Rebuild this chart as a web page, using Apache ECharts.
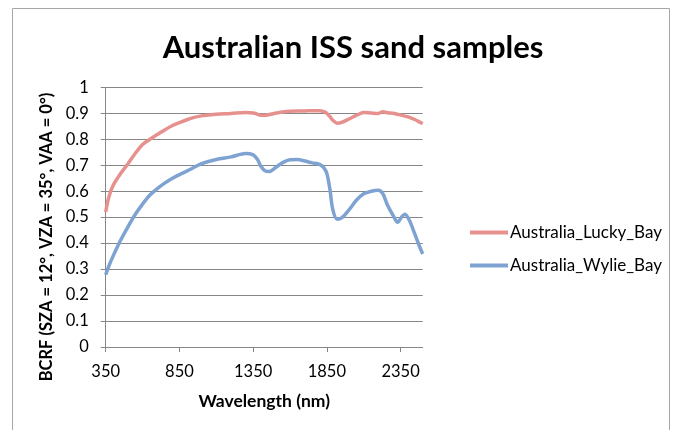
<!DOCTYPE html>
<html>
<head>
<meta charset="utf-8">
<script src="https://cdn.jsdelivr.net/npm/echarts@6/dist/echarts.min.js"></script>
<style>
html,body{margin:0;padding:0;background:#fff;}
#chart{width:673px;height:430px;}
</style>
</head>
<body>
<div id="chart"></div>
<script>
const titleText = 'Australian ISS sand samples';
const xAxisTitle = 'Wavelength (nm)';
const yAxisTitle = 'BCRF (SZA = 12°, VZA = 35°, VAA = 0°)';
const xTicks = [350, 850, 1350, 1850, 2350];
const seriesNames = ['Australia_Lucky_Bay', 'Australia_Wylie_Bay'];
const wavelengths = [350,370,400,450,500,550,600,650,700,750,800,850,900,950,1000,1100,1200,1300,1350,1380,1400,1430,1460,1500,1550,1600,1650,1700,1750,1800,1830,1850,1870,1890,1920,1950,2000,2050,2100,2150,2200,2230,2260,2300,2330,2360,2380,2410,2450,2480,2500];
const luckyBay = [0.52,0.575,0.622,0.667,0.705,0.745,0.780,0.800,0.818,0.836,0.852,0.864,0.875,0.884,0.890,0.896,0.899,0.903,0.901,0.896,0.892,0.892,0.895,0.900,0.905,0.908,0.909,0.909,0.910,0.910,0.906,0.900,0.888,0.873,0.862,0.865,0.878,0.892,0.903,0.901,0.899,0.906,0.902,0.900,0.896,0.892,0.889,0.884,0.875,0.866,0.860];
const wylieBay = [0.278,0.31,0.35,0.41,0.462,0.51,0.55,0.585,0.610,0.631,0.649,0.664,0.677,0.692,0.706,0.722,0.732,0.745,0.740,0.722,0.698,0.679,0.676,0.690,0.710,0.721,0.722,0.716,0.709,0.703,0.69,0.668,0.61,0.53,0.492,0.497,0.528,0.565,0.590,0.600,0.604,0.590,0.548,0.506,0.480,0.503,0.511,0.487,0.43,0.385,0.358];

const pairs = (ys) => wavelengths.map((w, i) => [w, ys[i]]);
const chart = echarts.init(document.getElementById('chart'));
const ff = 'Lato, "Liberation Sans", sans-serif';
chart.setOption({
  backgroundColor: '#fff',
  animation: false,
  title: {
    text: titleText, left: 348, top: 27, textAlign: 'center',
    textStyle: {fontFamily: ff, fontWeight: 'bold', fontSize: 31, color: '#000'}
  },
  graphic: [{
    type: 'rect', shape: {x: 12.5, y: 8.5, width: 657, height: 440},
    style: {fill: 'none', stroke: '#a6a6a6', lineWidth: 1}, silent: true, z: -1
  }, {
    type: 'text', x: 47, y: 237, rotation: Math.PI / 2, silent: true,
    style: {text: yAxisTitle, align: 'center', verticalAlign: 'middle',
      fontFamily: ff, fontWeight: 'bold', fontSize: 16.5, fill: '#000'}
  }],
  legend: {
    orient: 'vertical', left: 465, top: 219, itemWidth: 38, itemHeight: 4, itemGap: 16,
    icon: 'rect',
    textStyle: {fontFamily: ff, fontSize: 17, color: '#000', padding: [0,0,0,-3]},
    data: seriesNames
  },
  grid: {left: 105.7, right: 250.3, top: 87.3, bottom: 83, containLabel: false},
  xAxis: {
    type: 'value', min: 350, max: 2500,
    name: xAxisTitle, nameLocation: 'middle', nameGap: 45,
    nameTextStyle: {fontFamily: ff, fontWeight: 'bold', fontSize: 17.5, color: '#000'},
    axisLine: {show: true, onZero: false, lineStyle: {color: '#868686', width: 1}},
    axisTick: {show: true, length: 5, customValues: xTicks, lineStyle: {color: '#868686'}},
    axisLabel: {customValues: xTicks, margin: 16, fontFamily: ff, fontSize: 16.5, color: '#000',
      formatter: v => String(v)},
    splitLine: {show: false}
  },
  yAxis: {
    type: 'value', min: 0, max: 1, interval: 0.1,
    axisLine: {show: true, lineStyle: {color: '#868686', width: 1}},
    axisTick: {show: true, length: 5, lineStyle: {color: '#868686'}},
    axisLabel: {margin: 17, fontFamily: ff, fontSize: 16.5, color: '#000',
      formatter: v => String(Math.round(v * 10) / 10)},
    splitLine: {show: true, lineStyle: {color: '#868686', width: 1}}
  },
  series: [
    {name: seriesNames[0], type: 'line', data: pairs(luckyBay), symbol: 'none', smooth: 0.3,
     lineStyle: {color: '#E6918E', width: 3.5}, itemStyle: {color: '#E6918E'}},
    {name: seriesNames[1], type: 'line', data: pairs(wylieBay), symbol: 'none', smooth: 0.3,
     lineStyle: {color: '#7EA3D2', width: 3.5}, itemStyle: {color: '#7EA3D2'}}
  ]
});
</script>
</body>
</html>
